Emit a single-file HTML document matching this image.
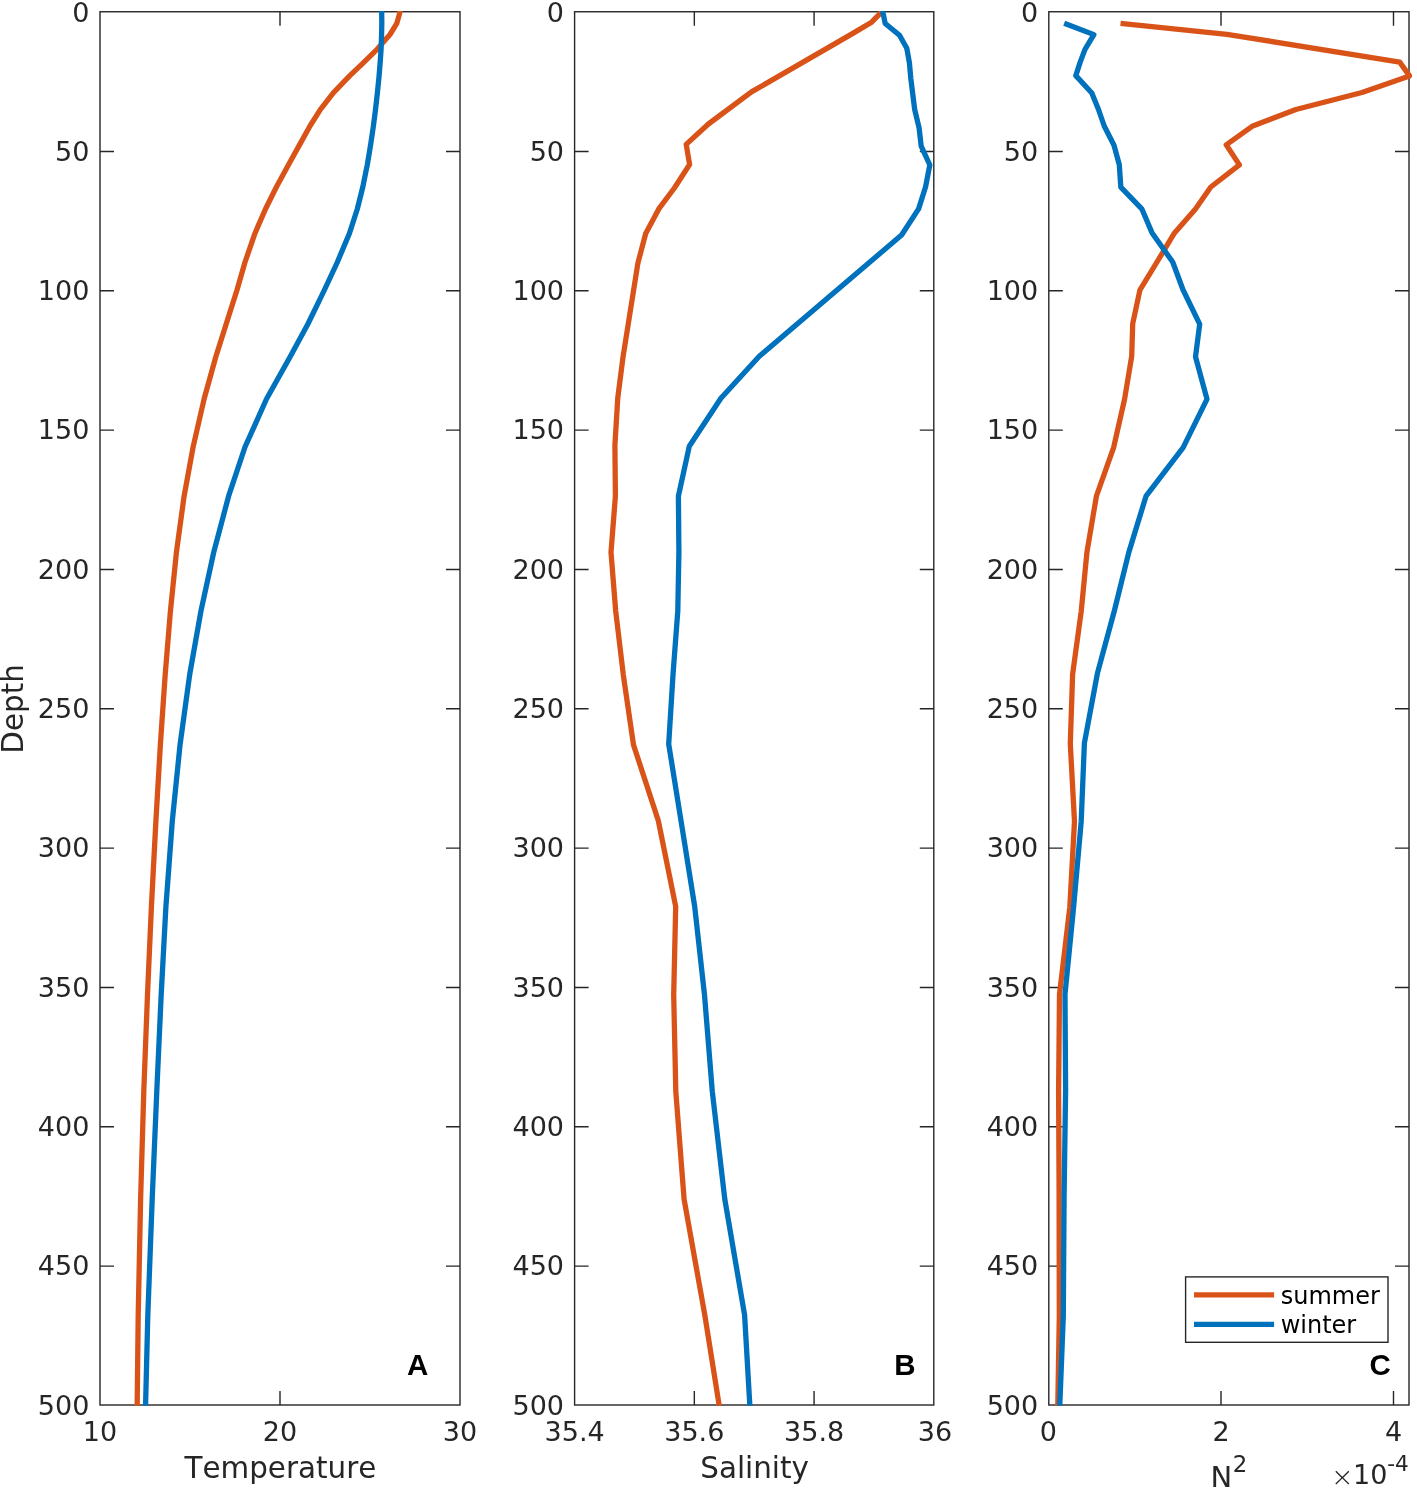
<!DOCTYPE html>
<html lang="en"><head><meta charset="utf-8"><title>Seasonal profiles</title>
<style>html,body{margin:0;padding:0;background:#fff;overflow:hidden}svg{display:block}text{font-family:"DejaVu Sans", "Liberation Sans", sans-serif;fill:#262626;font-kerning:none}.t{font-size:27.0px}.l{font-size:29.4px}.g{font-size:24.0px;fill:#000}.b{font-family:"Liberation Sans","DejaVu Sans",sans-serif;font-weight:bold;font-size:29.5px;fill:#000}.ax{stroke:#262626;stroke-width:1.4;fill:none}.c{fill:none;stroke-width:5.3;stroke-linejoin:round;stroke-linecap:butt}</style></head><body>
<svg width="1417" height="1491" viewBox="0 0 1417 1491">
<rect width="1417" height="1491" fill="#fff"/>
<defs>
<clipPath id="cp0"><rect x="97.0" y="11.05" width="366.0" height="1394.65"/></clipPath>
<clipPath id="cp1"><rect x="571.6" y="11.05" width="365.2" height="1394.65"/></clipPath>
<clipPath id="cp2"><rect x="1045.8" y="11.05" width="366.2" height="1394.65"/></clipPath>
</defs>
<g id="panel0">
<rect class="ax" x="100.00" y="11.75" width="360.00" height="1393.25"/>
<path class="ax" d="M100.00 151.48h14.0M460.00 151.48h-14.0M100.00 290.80h14.0M460.00 290.80h-14.0M100.00 430.12h14.0M460.00 430.12h-14.0M100.00 569.45h14.0M460.00 569.45h-14.0M100.00 708.77h14.0M460.00 708.77h-14.0M100.00 848.10h14.0M460.00 848.10h-14.0M100.00 987.43h14.0M460.00 987.43h-14.0M100.00 1126.75h14.0M460.00 1126.75h-14.0M100.00 1266.08h14.0M460.00 1266.08h-14.0M280.00 11.75v14.0M280.00 1405.00v-14.0"/>
<text class="t" x="89.4" y="21.5" text-anchor="end">0</text>
<text class="t" x="89.4" y="161.3" text-anchor="end">50</text>
<text class="t" x="89.4" y="299.6" text-anchor="end">100</text>
<text class="t" x="89.4" y="439.4" text-anchor="end">150</text>
<text class="t" x="89.4" y="578.8" text-anchor="end">200</text>
<text class="t" x="89.4" y="718.0" text-anchor="end">250</text>
<text class="t" x="89.4" y="857.4" text-anchor="end">300</text>
<text class="t" x="89.4" y="996.7" text-anchor="end">350</text>
<text class="t" x="89.4" y="1136.1" text-anchor="end">400</text>
<text class="t" x="89.4" y="1275.4" text-anchor="end">450</text>
<text class="t" x="89.4" y="1414.8" text-anchor="end">500</text>
<text class="t" x="100.0" y="1441.3" text-anchor="middle">10</text>
<text class="t" x="280.0" y="1441.3" text-anchor="middle">20</text>
<text class="t" x="460.0" y="1441.3" text-anchor="middle">30</text>
<text class="l" x="280.4" y="1477.8" text-anchor="middle">Temperature</text>
<g clip-path="url(#cp0)">
<polyline class="c" stroke="#D95319" points="399.8,9.0 399.7,13.1 396.8,23.4 390.0,34.5 377.5,48.8 363.8,62.3 349.6,75.8 333.3,92.8 320.3,109.6 310.0,126.0 299.5,144.9 288.5,164.8 276.4,187.0 265.5,209.0 255.0,233.2 244.9,262.5 237.0,290.0 226.2,324.0 215.9,356.5 204.1,399.0 193.1,447.0 184.1,496.2 176.4,552.4 170.4,611.2 165.2,674.5 160.4,744.3 155.9,821.0 151.4,906.8 147.5,994.5 143.8,1091.0 140.6,1199.2 138.2,1315.5 137.1,1412.0"/>
<polyline class="c" stroke="#0072BD" points="381.7,9.0 381.7,13.1 381.8,23.4 381.6,34.5 381.1,48.8 380.2,62.3 379.1,75.8 377.4,92.8 375.5,109.6 373.4,126.0 370.6,144.9 367.3,164.8 362.8,187.0 357.3,209.0 349.5,233.2 337.2,262.5 324.4,290.0 307.9,324.0 290.3,356.5 266.5,399.0 245.0,447.0 228.6,496.2 213.7,552.4 200.9,611.2 189.7,674.5 180.1,744.3 172.3,821.0 165.9,906.8 161.2,994.5 156.8,1091.0 152.2,1199.2 147.8,1315.5 145.4,1412.0"/>
</g>
<text class="b" x="407.0" y="1375.0">A</text>
</g>
<g id="panel1">
<rect class="ax" x="574.60" y="11.75" width="359.20" height="1393.25"/>
<path class="ax" d="M574.60 151.48h14.0M933.80 151.48h-14.0M574.60 290.80h14.0M933.80 290.80h-14.0M574.60 430.12h14.0M933.80 430.12h-14.0M574.60 569.45h14.0M933.80 569.45h-14.0M574.60 708.77h14.0M933.80 708.77h-14.0M574.60 848.10h14.0M933.80 848.10h-14.0M574.60 987.43h14.0M933.80 987.43h-14.0M574.60 1126.75h14.0M933.80 1126.75h-14.0M574.60 1266.08h14.0M933.80 1266.08h-14.0M694.33 11.75v14.0M694.33 1405.00v-14.0M814.07 11.75v14.0M814.07 1405.00v-14.0"/>
<text class="t" x="564.0" y="21.5" text-anchor="end">0</text>
<text class="t" x="564.0" y="161.3" text-anchor="end">50</text>
<text class="t" x="564.0" y="299.6" text-anchor="end">100</text>
<text class="t" x="564.0" y="439.4" text-anchor="end">150</text>
<text class="t" x="564.0" y="578.8" text-anchor="end">200</text>
<text class="t" x="564.0" y="718.0" text-anchor="end">250</text>
<text class="t" x="564.0" y="857.4" text-anchor="end">300</text>
<text class="t" x="564.0" y="996.7" text-anchor="end">350</text>
<text class="t" x="564.0" y="1136.1" text-anchor="end">400</text>
<text class="t" x="564.0" y="1275.4" text-anchor="end">450</text>
<text class="t" x="564.0" y="1414.8" text-anchor="end">500</text>
<text class="t" x="574.6" y="1441.3" text-anchor="middle">35.4</text>
<text class="t" x="694.3" y="1441.3" text-anchor="middle">35.6</text>
<text class="t" x="814.1" y="1441.3" text-anchor="middle">35.8</text>
<text class="t" x="935.0" y="1441.3" text-anchor="middle">36</text>
<text class="l" x="754.6" y="1477.8" text-anchor="middle">Salinity</text>
<g clip-path="url(#cp1)">
<polyline class="c" stroke="#D95319" points="882.6,10.5 881.8,11.8 871.6,22.2 852.0,33.9 751.5,91.9 708.4,124.0 686.2,144.4 689.6,164.5 674.4,188.0 658.8,208.9 645.7,233.5 637.9,263.1 623.0,357.1 617.8,397.6 614.9,445.1 615.4,496.1 611.0,552.3 615.7,611.0 623.3,674.8 633.5,744.9 658.3,820.6 675.7,906.5 673.7,994.9 675.8,1091.5 684.1,1199.2 704.8,1315.0 719.1,1404.8 720.3,1412.0"/>
<polyline class="c" stroke="#0072BD" points="882.6,10.5 882.8,11.8 885.2,23.5 899.5,35.3 906.8,48.3 909.4,62.7 910.8,78.3 914.7,109.7 919.1,127.9 921.2,146.2 929.8,165.0 925.6,186.7 918.6,208.9 901.6,235.0 759.3,356.3 720.9,398.3 689.3,446.2 678.4,496.1 678.9,552.3 677.8,611.0 673.0,674.8 668.7,744.1 681.0,820.6 694.7,906.5 704.5,994.9 712.3,1091.5 724.8,1199.2 744.6,1315.0 749.8,1404.8 750.2,1412.0"/>
</g>
<text class="b" x="894.2" y="1375.0">B</text>
</g>
<g id="panel2">
<rect class="ax" x="1048.80" y="11.75" width="360.20" height="1393.25"/>
<path class="ax" d="M1048.80 151.48h14.0M1409.00 151.48h-14.0M1048.80 290.80h14.0M1409.00 290.80h-14.0M1048.80 430.12h14.0M1409.00 430.12h-14.0M1048.80 569.45h14.0M1409.00 569.45h-14.0M1048.80 708.77h14.0M1409.00 708.77h-14.0M1048.80 848.10h14.0M1409.00 848.10h-14.0M1048.80 987.43h14.0M1409.00 987.43h-14.0M1048.80 1126.75h14.0M1409.00 1126.75h-14.0M1048.80 1266.08h14.0M1409.00 1266.08h-14.0M1221.00 11.75v14.0M1221.00 1405.00v-14.0M1393.50 11.75v14.0M1393.50 1405.00v-14.0"/>
<text class="t" x="1038.2" y="21.5" text-anchor="end">0</text>
<text class="t" x="1038.2" y="161.3" text-anchor="end">50</text>
<text class="t" x="1038.2" y="299.6" text-anchor="end">100</text>
<text class="t" x="1038.2" y="439.4" text-anchor="end">150</text>
<text class="t" x="1038.2" y="578.8" text-anchor="end">200</text>
<text class="t" x="1038.2" y="718.0" text-anchor="end">250</text>
<text class="t" x="1038.2" y="857.4" text-anchor="end">300</text>
<text class="t" x="1038.2" y="996.7" text-anchor="end">350</text>
<text class="t" x="1038.2" y="1136.1" text-anchor="end">400</text>
<text class="t" x="1038.2" y="1275.4" text-anchor="end">450</text>
<text class="t" x="1038.2" y="1414.8" text-anchor="end">500</text>
<text class="t" x="1048.3" y="1441.3" text-anchor="middle">0</text>
<text class="t" x="1221.0" y="1441.3" text-anchor="middle">2</text>
<text class="t" x="1393.5" y="1441.3" text-anchor="middle">4</text>
<g clip-path="url(#cp2)">
<polyline class="c" stroke="#D95319" points="1120.5,23.3 1227.0,34.3 1399.7,62.1 1409.5,75.9 1362.0,92.5 1295.9,109.5 1252.8,125.9 1226.2,144.8 1239.4,164.9 1210.8,187.0 1195.3,209.2 1174.5,232.9 1157.0,262.0 1140.0,289.8 1132.7,323.8 1131.7,356.2 1124.6,399.1 1113.6,447.7 1096.4,496.2 1086.9,552.4 1081.2,611.5 1072.6,674.3 1070.3,743.9 1074.5,821.4 1069.8,907.2 1059.5,994.3 1058.6,1090.5 1059.1,1195.3 1059.3,1316.5 1057.8,1404.8 1057.7,1412.0"/>
<polyline class="c" stroke="#0072BD" points="1064.2,23.2 1093.9,34.6 1085.0,49.4 1080.2,62.1 1075.8,75.6 1091.8,93.0 1098.5,109.5 1104.2,126.0 1114.0,145.3 1119.3,164.7 1120.8,187.1 1142.0,209.2 1152.1,233.0 1172.7,262.0 1183.1,290.0 1199.7,324.2 1195.5,356.8 1207.0,399.1 1183.1,447.7 1146.0,496.2 1128.8,552.4 1114.3,611.0 1097.4,673.4 1084.4,742.9 1081.2,821.4 1073.6,907.2 1065.0,994.3 1065.6,1090.5 1064.1,1195.3 1063.3,1316.5 1059.8,1404.8 1059.5,1412.0"/>
</g>
<text class="b" x="1369.6" y="1375.0">C</text>
</g>
<text class="l" transform="translate(22.7 708.9) rotate(-90)" text-anchor="middle">Depth</text>
<text x="1210.4" y="1486.9" font-size="29">N<tspan font-size="22.8" dy="-14.5" dx="0.7">2</tspan></text>
<text class="t" x="1342.3" y="1486.2" text-anchor="middle" font-weight="200" font-size="24">×</text>
<text class="t" x="1353.0" y="1484.2">10<tspan font-size="21.6" dy="-13.3" dx="-0.2">-4</tspan></text>
<g id="legend">
<rect x="1185.6" y="1276.9" width="202.4" height="65.4" fill="#fff" stroke="#262626" stroke-width="1.4"/>
<path d="M1194.0 1294.8H1274.1" stroke="#D95319" stroke-width="5.3" fill="none"/>
<path d="M1194.0 1324.4H1274.1" stroke="#0072BD" stroke-width="5.3" fill="none"/>
<text class="g" x="1280.7" y="1304.2">summer</text>
<text class="g" x="1280.7" y="1333.2">winter</text>
</g>
</svg></body></html>
